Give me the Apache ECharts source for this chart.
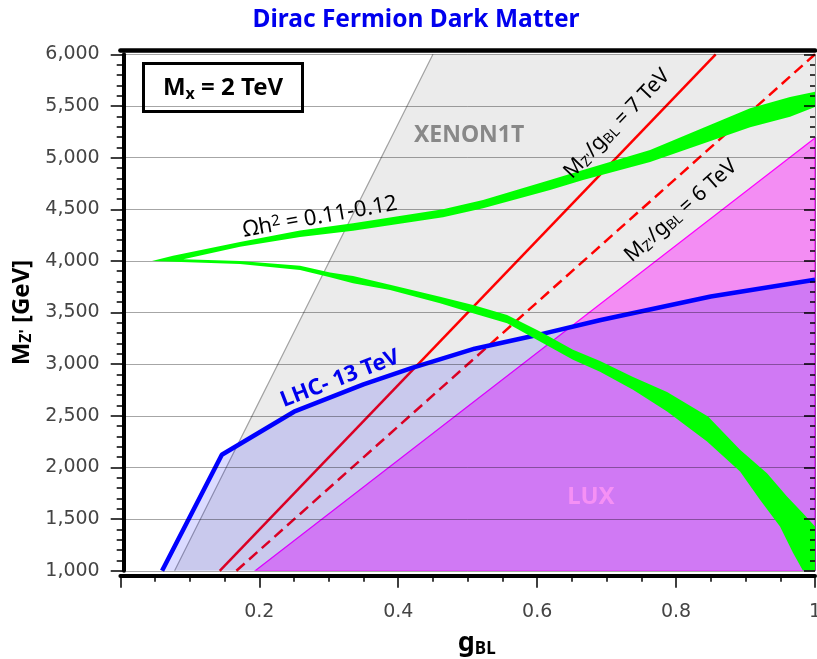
<!DOCTYPE html>
<html><head><meta charset="utf-8">
<script src="https://cdn.jsdelivr.net/npm/echarts@6/dist/echarts.min.js"></script>
<style>html,body{margin:0;padding:0;background:#fff}#c{width:817px;height:659px}</style>
</head><body><div id="c"></div>
<script>
// ---- axis ranges / ticks ----
const X_MIN = 0, X_MAX = 1, X_STEP = 0.2;
const Y_MIN = 1000, Y_MAX = 6000, Y_STEP = 500;

// ---- XENON1T exclusion boundary (region to the right is excluded) ----
const xenonEdge = [[0.078, 1000], [0.45, 6000]];
// ---- LUX exclusion boundary (region below/right is excluded) ----
const luxEdge = [[0.194, 1000], [1.0, 5190]];
// ---- LHC 13 TeV limit (region below excluded) ----
const lhcLimit = [[0.06, 1000], [0.146, 2123], [0.25, 2540], [0.35, 2805], [0.42, 2965],
  [0.51, 3150], [0.60, 3282], [0.69, 3425], [0.85, 3655], [1.0, 3818]];
// ---- M_Z'/g_BL lines ----
const ratio7TeV = [[0.143, 1000], [0.857, 6000]];
const ratio6TeV = [[0.167, 1000], [1.0, 6000]];
// ---- relic density band  Omega h^2 = 0.11-0.12 ----
const relicUpperOuter = [[0.0455, 4000], [0.0757, 4051], [0.1722, 4184], [0.2586, 4295], [0.3349, 4365],
  [0.4645, 4500], [0.5221, 4590], [0.6186, 4784], [0.6661, 4880], [0.7626, 5074], [0.9066, 5478],
  [0.9641, 5587], [1.0, 5638]];
const relicUpperInner = [[1.0, 5490], [0.9641, 5396], [0.9066, 5294], [0.7626, 4958], [0.6661, 4784],
  [0.6186, 4687], [0.5221, 4510], [0.4645, 4423], [0.3349, 4293], [0.2586, 4232], [0.1722, 4138],
  [0.0906, 4016]];
const relicLowerInner = [[0.1722, 4000], [0.2586, 3952], [0.3018, 3887], [0.3349, 3855], [0.3882, 3768],
  [0.4602, 3654], [0.5077, 3574], [0.5567, 3477], [0.6041, 3316], [0.6516, 3139], [0.6905, 3032],
  [0.7380, 2877], [0.7870, 2732], [0.8460, 2493], [0.8921, 2171], [0.9309, 1945], [0.9597, 1719],
  [0.9827, 1558], [1.0, 1429], [1.0, 1000]];
const relicLowerOuter = [[0.9827, 1000], [0.9683, 1174], [0.9496, 1429], [0.9208, 1687], [0.8921, 1961],
  [0.8446, 2251], [0.7870, 2542], [0.7380, 2752], [0.6905, 2926], [0.6516, 3042], [0.6041, 3219],
  [0.5567, 3397], [0.5077, 3494], [0.4602, 3591], [0.3882, 3719], [0.3349, 3784], [0.3018, 3842],
  [0.2586, 3913], [0.1722, 3971]];

const FONT = "'Noto Sans', sans-serif";
const TICKFONT = "'DejaVu Sans', sans-serif";

function polygonSeries(pts, style, z) {
  return {
    type: 'custom', z: z, silent: true, clip: true,
    data: [[X_MIN, Y_MIN]],
    renderItem: function (params, api) {
      return { type: 'polygon', shape: { points: pts.map(function (p) { return api.coord(p); }) }, style: style };
    }
  };
}

const xenonRegion = xenonEdge.concat([[X_MAX, Y_MAX], [X_MAX, Y_MIN]]);
const luxRegion = luxEdge.concat([[X_MAX, Y_MIN]]);
const relicBand = relicUpperOuter.concat(relicUpperInner, relicLowerInner, relicLowerOuter);

const chart = echarts.init(document.getElementById('c'), null, { renderer: 'canvas' });

const option = {
  animation: false,
  backgroundColor: '#fff',
  title: {
    text: 'Dirac Fermion Dark Matter', left: 411, top: 3, textAlign: 'center',
    textStyle: { color: '#0000ee', fontSize: 24.5, fontWeight: 'bold', fontFamily: FONT }
  },
  grid: { left: 120.4, right: 2, top: 54.3, bottom: 88.2, containLabel: false, outerBoundsMode: 'none' },
  xAxis: [{
    type: 'value', min: X_MIN, max: X_MAX, interval: X_STEP, position: 'bottom', offset: 5, z: 6,
    axisLine: { show: true, onZero: false, lineStyle: { color: '#000', width: 4 } },
    axisTick: { show: true, length: 12, lineStyle: { color: '#000', width: 1.5 } },
    minorTick: { show: true, splitNumber: 4, length: 6, lineStyle: { color: '#000', width: 1.5 } },
    splitLine: { show: false },
    axisLabel: { formatter: function (v) { return v === 0 ? '' : String(v); }, fontSize: 19, color: '#444', margin: 27, fontFamily: TICKFONT },
    name: '{g|g}{s|BL}', nameLocation: 'middle', nameGap: 54,
    nameTextStyle: { padding: [0, 0, 0, 18], rich: {
      g: { fontSize: 27, fontWeight: 'bold', color: '#000', fontFamily: FONT },
      s: { fontSize: 17, fontWeight: 'bold', color: '#000', fontFamily: FONT, verticalAlign: 'bottom', padding: [11, 0, 0, 0] }
    } }
  }, {
    type: 'value', min: X_MIN, max: X_MAX, interval: X_STEP, position: 'top', offset: 4.5, z: 6,
    axisLine: { show: true, onZero: false, lineStyle: { color: '#000', width: 4.5 } },
    axisTick: { show: false }, axisLabel: { show: false }, splitLine: { show: false }
  }],
  yAxis: [{
    type: 'value', min: Y_MIN, max: Y_MAX, interval: Y_STEP, position: 'left', offset: -3.3, z: 6,
    axisLine: { show: true, onZero: false, lineStyle: { color: '#000', width: 4 } },
    axisTick: { show: true, length: 13, lineStyle: { color: '#000', width: 1.5 } },
    minorTick: { show: true, splitNumber: 5, length: 7, lineStyle: { color: '#000', width: 1.5 } },
    splitLine: { show: true, lineStyle: { color: 'rgba(0,0,0,0.35)', width: 1 } },
    axisLabel: { formatter: function (v) { return v.toLocaleString('en-US'); }, fontSize: 19, color: '#444', margin: 24, fontFamily: TICKFONT },
    name: '{m|M}{s|Z\'}{m| [GeV]}', nameLocation: 'middle', nameGap: 88, nameRotate: 90,
    nameTextStyle: { rich: {
      m: { fontSize: 24, fontWeight: 'bold', color: '#000', fontFamily: FONT },
      s: { fontSize: 16, fontWeight: 'bold', color: '#000', fontFamily: FONT, verticalAlign: 'bottom', padding: [9, 0, 0, 0] }
    } }
  }, {
    type: 'value', min: Y_MIN, max: Y_MAX, interval: Y_STEP, position: 'right', z: 12,
    axisLine: { show: true, onZero: false, lineStyle: { color: 'rgba(0,0,0,0.4)', width: 1 } },
    axisTick: { show: true, inside: true, length: 11, lineStyle: { color: '#000', width: 1.5 } },
    minorTick: { show: true, splitNumber: 5, length: 5, lineStyle: { color: '#000', width: 1.5 } },
    axisLabel: { show: false }, splitLine: { show: false }
  }],
  series: [
    polygonSeries(xenonRegion, { fill: '#ebebeb' }, 1),
    { type: 'line', data: xenonEdge, symbol: 'none', z: 1, silent: true,
      lineStyle: { color: '#a0a0a0', width: 1.2 } },
    polygonSeries(luxRegion, { fill: 'rgba(255,0,255,0.4)', stroke: '#ff00ff', lineWidth: 1.2 }, 2),
    { type: 'line', data: ratio7TeV, symbol: 'none', z: 3, silent: true,
      lineStyle: { color: '#ff0000', width: 2.5 } },
    { type: 'line', data: ratio6TeV, symbol: 'none', z: 3, silent: true,
      lineStyle: { color: '#ff0000', width: 2.5, type: [11, 6] } },
    { type: 'line', data: lhcLimit, symbol: 'none', z: 4, silent: true,
      lineStyle: { color: '#0000ff', width: 4.5 },
      areaStyle: { color: 'rgba(0,0,255,0.2)', origin: 'start' } },
    polygonSeries(relicBand, { fill: '#00ff00' }, 10)
  ]
};
chart.setOption(option);

// ---- annotations, anchored in data coordinates ----
function toPx(p) { return chart.convertToPixel({ gridIndex: 0 }, p); }
function lineAngle(seg) {
  const a = toPx(seg[0]), b = toPx(seg[seg.length - 1]);
  return Math.atan2(a[1] - b[1], b[0] - a[0]);
}
function subRich(size, color, weight) {
  const s = Math.round(size * 0.66);
  return {
    a: { fontSize: size, fill: color, fontWeight: weight, fontFamily: FONT },
    b: { fontSize: s, fill: color, fontWeight: weight, fontFamily: FONT, verticalAlign: 'bottom', padding: [Math.round(size * 0.45), 0, 0, 0] },
    p: { fontSize: s, fill: color, fontWeight: weight, fontFamily: FONT, verticalAlign: 'top' }
  };
}
const annotations = [
  { text: '{a|M}{b|Z\'}{a|/g}{b|BL}{a| = 7 TeV}', at: [0.715, 5326], rot: lineAngle(ratio7TeV), size: 21, color: '#000', weight: 'normal' },
  { text: '{a|M}{b|Z\'}{a|/g}{b|BL}{a| = 6 TeV}', at: [0.807, 4484], rot: lineAngle(ratio6TeV), size: 21, color: '#000', weight: 'normal' },
  { text: '{a|\u03A9h}{p|2}{a| = 0.11-0.12}', at: [0.2876, 4426], rot: 10 * Math.PI / 180, size: 22, color: '#000', weight: 'normal' },
  { text: '{a|LHC- 13 TeV}', at: [0.3162, 2858], rot: 21 * Math.PI / 180, size: 22, color: '#0000ee', weight: 'bold' },
  { text: '{a|XENON1T}', at: [0.502, 5219], rot: 0, size: 23, color: '#888888', weight: 'bold' },
  { text: '{a|LUX}', at: [0.6775, 1716], rot: 0, size: 24, color: '#f590f5', weight: 'bold' }
];
const graphics = annotations.map(function (a) {
  const p = toPx(a.at);
  return { type: 'text', x: p[0], y: p[1], rotation: a.rot, z: 20, silent: true,
    style: { text: a.text, align: 'center', verticalAlign: 'middle', rich: subRich(a.size, a.color, a.weight) } };
});
graphics.push({
  type: 'group', left: 142, top: 62, z: 30, silent: true,
  children: [
    { type: 'rect', shape: { x: 0, y: 0, width: 159, height: 48 }, style: { fill: '#fff', stroke: '#000', lineWidth: 3 } },
    { type: 'text', x: 79.5, y: 25, style: { text: '{a|M}{b|x}{a| = 2 TeV}', align: 'center', verticalAlign: 'middle', rich: subRich(24, '#000', 'bold') } }
  ]
});
chart.setOption({ graphic: graphics });
</script></body></html>
